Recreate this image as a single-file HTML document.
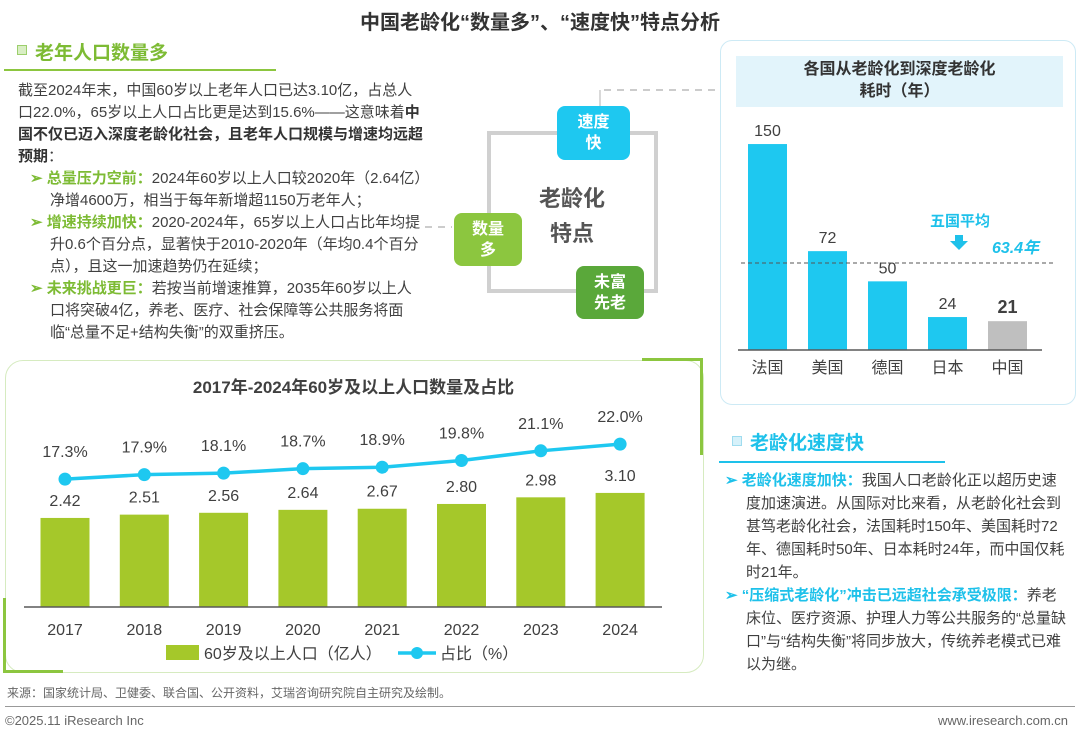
<!DOCTYPE html>
<html><head><meta charset="utf-8">
<style>
body{margin:0;width:1080px;height:737px;position:relative;background:#fff;font-family:"Liberation Sans","Noto Sans CJK SC",sans-serif;color:#404040;overflow:hidden}
.a{position:absolute}
.t{font-size:15px;line-height:22px;color:#404040}
.g{color:#7dbb34;font-weight:bold}
.b{color:#1ec1ea;font-weight:bold}
.box{position:absolute;color:#fff;font-weight:bold;font-size:16px;line-height:21px;text-align:center;border-radius:8px;display:flex;align-items:center;justify-content:center}
</style></head><body>
<div class="a" style="left:0;width:1080px;top:6px;text-align:center;font-size:20px;font-weight:bold;color:#333">中国老龄化“数量多”、“速度快”特点分析</div>

<div class="a" style="left:17px;top:45px;width:8px;height:8px;border:1px solid #9ccf6c;background:#d9eec4"></div>
<div class="a" style="left:35px;top:38px;font-size:19px;font-weight:bold;color:#7dbb34">老年人口数量多</div>
<div class="a" style="left:4px;top:69px;width:272px;height:2px;background:#8cc63f"></div>

<div class="a t" style="left:18px;top:80px;width:406px">
<div>截至2024年末，中国60岁以上老年人口已达3.10亿，占总人口22.0%，65岁以上人口占比更是达到15.6%——这意味着<b style="color:#333">中国不仅已迈入深度老龄化社会，且老年人口规模与增速均远超预期</b>：</div>
<div style="padding-left:32px;text-indent:-20px"><span class="g">➢ 总量压力空前：</span>2024年60岁以上人口较2020年（2.64亿）净增4600万，相当于每年新增超1150万老年人；</div>
<div style="padding-left:32px;text-indent:-20px"><span class="g">➢ 增速持续加快：</span>2020-2024年，65岁以上人口占比年均提升0.6个百分点，显著快于2010-2020年（年均0.4个百分点），且这一加速趋势仍在延续；</div>
<div style="padding-left:32px;text-indent:-20px"><span class="g">➢ 未来挑战更巨：</span>若按当前增速推算，2035年60岁以上人口将突破4亿，养老、医疗、社会保障等公共服务将面临“总量不足+结构失衡”的双重挤压。</div>
</div>

<svg class="a" style="left:0;top:0" width="1080" height="737">
<rect x="489" y="133" width="167" height="158" fill="none" stroke="#d0d0d0" stroke-width="4"/>
<line x1="600" y1="90" x2="600" y2="106" stroke="#ccc" stroke-width="1.5"/>
<line x1="604" y1="90" x2="720" y2="90" stroke="#ccc" stroke-width="2" stroke-dasharray="7,6"/>
<line x1="425" y1="227" x2="452" y2="227" stroke="#ccc" stroke-width="2" stroke-dasharray="7,6"/>
</svg>
<div class="box" style="left:557px;top:106px;width:73px;height:54px;background:#1ec8f0">速度<br>快</div>
<div class="box" style="left:454px;top:213px;width:68px;height:53px;background:#8cc63f">数量<br>多</div>
<div class="box" style="left:576px;top:266px;width:68px;height:53px;background:#5aa83a">未富<br>先老</div>
<div class="a" style="left:522px;top:181px;width:100px;text-align:center;font-size:22px;line-height:35px;font-weight:bold;color:#555">老龄化<br>特点</div>

<div class="a" style="left:720px;top:40px;width:354px;height:363px;border:1.5px solid #cdeaf5;border-radius:12px"></div>
<div class="a" style="left:736px;top:56px;width:327px;height:51px;background:#e2f4fb;text-align:center;font-size:16px;line-height:22px;font-weight:bold;color:#333;padding-top:3px;box-sizing:border-box">各国从老龄化到深度老龄化<br>耗时（年）</div>
<svg class="a" id="cc" style="left:0;top:0" width="1080" height="737"></svg>

<div class="a" style="left:732px;top:436px;width:8px;height:8px;border:1px solid #9fdcef;background:#d6f1fa"></div>
<div class="a" style="left:750px;top:428px;font-size:19px;font-weight:bold;color:#1ec1ea">老龄化速度快</div>
<div class="a" style="left:719px;top:461px;width:226px;height:2px;background:#1ec1ea"></div>
<div class="a t" style="left:725px;top:469px;width:342px;line-height:23px">
<div style="padding-left:21px;text-indent:-21px"><span class="b">➢ 老龄化速度加快：</span>我国人口老龄化正以超历史速度加速演进。从国际对比来看，从老龄化社会到甚笃老龄化社会，法国耗时150年、美国耗时72年、德国耗时50年、日本耗时24年，而中国仅耗时21年。</div>
<div style="padding-left:21px;text-indent:-21px"><span class="b">➢ “压缩式老龄化”冲击已远超社会承受极限：</span>养老床位、医疗资源、护理人力等公共服务的“总量缺口”与“结构失衡”将同步放大，传统养老模式已难以为继。</div>
</div>

<div class="a" style="left:5px;top:360px;width:697px;height:311px;border:1.5px solid #d6ebc0;border-radius:18px"></div>
<div class="a" style="left:642px;top:358px;width:61px;height:3px;background:#8cc63f"></div>
<div class="a" style="left:700px;top:358px;width:3px;height:97px;background:#8cc63f"></div>
<div class="a" style="left:3px;top:598px;width:3px;height:75px;background:#8cc63f"></div>
<div class="a" style="left:3px;top:670px;width:60px;height:3px;background:#8cc63f"></div>
<div class="a" style="left:5px;width:697px;top:373px;text-align:center;font-size:17px;font-weight:bold;color:#404040">2017年-2024年60岁及以上人口数量及占比</div>
<svg class="a" id="pc" style="left:0;top:0" width="1080" height="737"></svg>

<div class="a" style="left:7px;top:684px;font-size:12px;color:#666">来源：国家统计局、卫健委、联合国、公开资料，艾瑞咨询研究院自主研究及绘制。</div>
<div class="a" style="left:5px;top:706px;width:1070px;height:1px;background:#999"></div>
<div class="a" style="left:5px;top:713px;font-size:13px;color:#666">©2025.11 iResearch Inc</div>
<div class="a" style="right:12px;top:713px;font-size:13px;color:#666">www.iresearch.com.cn</div>

<script>
const NS="http://www.w3.org/2000/svg";
function mk(svg,tag,at,txt){const e=document.createElementNS(NS,tag);for(const k in at)e.setAttribute(k,at[k]);if(txt!==undefined)e.textContent=txt;svg.appendChild(e);return e;}

const countries=["法国","美国","德国","日本","中国"];
const countryYears=[150,72,50,24,21];
const avgYears=63.4;
(function(){
const svg=document.getElementById('cc');
const base=350,sc=1.373,x0=767.5,step=60,bw=39;
const y=v=>base-v*sc;
countries.forEach((c,i)=>{
 const cx=x0+i*step,h=countryYears[i]*sc;
 const r=mk(svg,'rect',{x:cx-bw/2,y:y(countryYears[i]),width:bw,height:h,fill:i===4?'#bfbfbf':'#1ec8f0'});
 
 
 const isC=i===4;
 const t=mk(svg,'text',{x:cx,y:y(countryYears[i])-8,'text-anchor':'middle','font-size':isC?18:16,'font-weight':isC?'bold':'normal',fill:'#404040'},countryYears[i]);
 
 
 const l=mk(svg,'text',{x:cx,y:base+23,'text-anchor':'middle','font-size':16,fill:'#404040'},c);
 
 
});
const ax=mk(svg,'line',{x1:738,x2:1042,y1:base,y2:base,stroke:'#595959','stroke-width':1.5});


const av=mk(svg,'line',{x1:741,x2:1053,y1:y(avgYears),y2:y(avgYears),stroke:'#555','stroke-width':1,'stroke-dasharray':'4,3'});


const a1=mk(svg,'text',{x:960,y:y(avgYears)-37,'text-anchor':'middle','font-size':15,'font-weight':'bold',fill:'#1ec1ea'},'五国平均');


const ar=mk(svg,'path',{d:`M955 ${y(avgYears)-28}h8v6h5l-9 9l-9-9h5z`,fill:'#1ec1ea'});


const a2=mk(svg,'text',{x:992,y:y(avgYears)-10,'font-size':16,'font-weight':'bold','font-style':'italic',fill:'#1ec1ea'},avgYears+'年');


})();

const years=["2017","2018","2019","2020","2021","2022","2023","2024"];
const population=[2.42,2.51,2.56,2.64,2.67,2.80,2.98,3.10];
const share=[17.3,17.9,18.1,18.7,18.9,19.8,21.1,22.0];
(function(){
const svg=document.getElementById('pc');
const base=607,bs=36.8,ls=7.45,x0=65,step=79.3,bw=49;
const yb=v=>base-v*bs, yl=v=>base+1-v*ls;
years.forEach((yr,i)=>{
 const cx=x0+i*step;
 const r=mk(svg,'rect',{x:cx-bw/2,y:yb(population[i]),width:bw,height:population[i]*bs,fill:'#a5c82a'});
 
 
 const t=mk(svg,'text',{x:cx,y:yb(population[i])-12,'text-anchor':'middle','font-size':16,fill:'#404040'},population[i].toFixed(2));
 
 
 const l=mk(svg,'text',{x:cx,y:base+28,'text-anchor':'middle','font-size':16,fill:'#404040'},yr);
 
 
});
const ax=mk(svg,'line',{x1:24,x2:662,y1:base,y2:base,stroke:'#595959','stroke-width':1.5});


const pts=share.map((v,i)=>(x0+i*step)+','+yl(v)).join(' ');
const pl=mk(svg,'polyline',{points:pts,fill:'none',stroke:'#1ec8f0','stroke-width':3.5});


share.forEach((v,i)=>{
 const cx=x0+i*step;
 const c=mk(svg,'circle',{cx:cx,cy:yl(v),r:6.5,fill:'#1ec8f0'});
 
 
 const t=mk(svg,'text',{x:cx,y:yl(v)-22,'text-anchor':'middle','font-size':16,fill:'#404040'},v.toFixed(1)+'%');
 
 
});
const lg1=mk(svg,'rect',{x:166,y:645,width:33,height:15,fill:'#a5c82a'});


const lt1=mk(svg,'text',{x:204,y:659,'font-size':16,fill:'#404040'},'60岁及以上人口（亿人）');


const lg2=mk(svg,'line',{x1:398,x2:436,y1:653,y2:653,stroke:'#1ec8f0','stroke-width':3.5});


const lg3=mk(svg,'circle',{cx:417,cy:653,r:6,fill:'#1ec8f0'});


const lt2=mk(svg,'text',{x:440,y:659,'font-size':16,fill:'#404040'},'占比（%）');


})();
</script>
</body></html>
